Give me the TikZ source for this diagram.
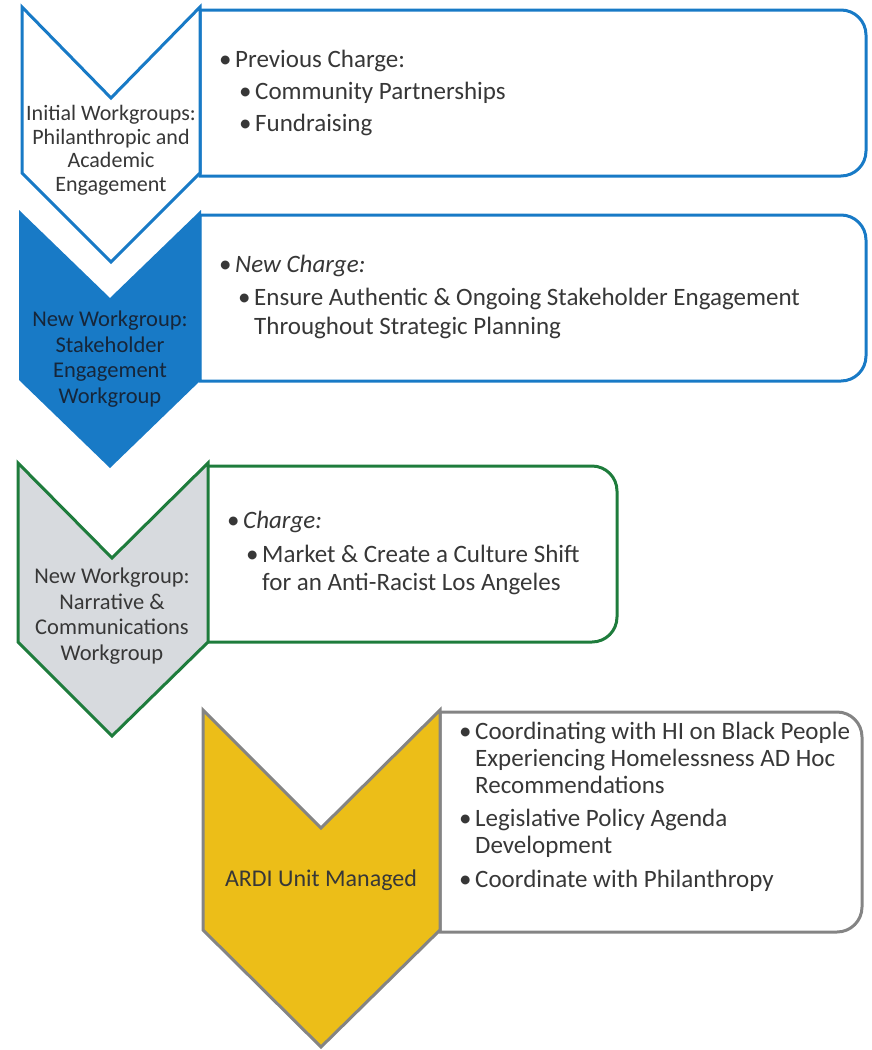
\documentclass[tikz,border=0pt]{standalone}
\usepackage{fontspec}
\setmainfont{Carlito}
\definecolor{wgblue}{RGB}{24,122,198}
\definecolor{wggreen}{RGB}{30,124,60}
\definecolor{wggrey}{RGB}{215,218,222}
\definecolor{wgyellow}{RGB}{236,190,24}
\definecolor{wgedge}{RGB}{132,132,132}
\definecolor{wgtext}{RGB}{55,55,55}
\definecolor{wgnavy}{RGB}{22,38,58}
\newcommand{\bul}{\makebox[16pt][l]{\textbullet}}
\tikzset{
  outline/.style={line width=3pt,line join=miter},
  boxtxt/.style={anchor=base west,inner sep=0pt,text=wgtext,font=\fontsize{25}{27}\selectfont},
  chevtxt/.style={align=center,inner sep=0pt,text=wgtext},
}
\begin{document}
\begin{tikzpicture}[x=1pt,y=-1pt]
\useasboundingbox (0,0) rectangle (872,1050);
\path[draw=wgblue,outline]%
(200,10)--(841,10) arc[start angle=90,end angle=0,radius=25pt]%
--(866,151) arc[start angle=0,end angle=-90,radius=25pt]--(200,176)--cycle;
\path[draw=wgblue,outline]%
(200,215)--(841,215) arc[start angle=90,end angle=0,radius=25pt]%
--(866,356) arc[start angle=0,end angle=-90,radius=25pt]--(200,381)--cycle;
\path[draw=wggreen,outline]%
(207,466)--(592,466) arc[start angle=90,end angle=0,radius=25pt]%
--(617,617) arc[start angle=0,end angle=-90,radius=25pt]--(207,642)--cycle;
\path[draw=wgedge,outline]%
(440,712)--(837,712) arc[start angle=90,end angle=0,radius=25pt]%
--(862,907) arc[start angle=0,end angle=-90,radius=25pt]--(440,932)--cycle;
\path[draw=wgblue,fill=white,outline]%
(22,7)--(111,98)--(200,7)--(200,173)--(111,262)--(22,173)--cycle;
\path[fill=wgblue]%
(19,210)--(110,298)--(201,210)--(201,380)--(110,468)--(19,380)--cycle;
\path[draw=wggreen,fill=wggrey,outline]%
(18,463)--(112,558)--(208,463)--(208,642)--(112,736)--(18,642)--cycle;
\path[draw=wgedge,fill=wgyellow,outline]%
(203,710)--(321,828)--(440,710)--(440,930)--(321,1047)--(203,930)--cycle;
\node[chevtxt,font=\fontsize{22}{23.5}\selectfont] (c1) at (111,150)
  {Initial Workgroups:\\Philanthropic and\\Academic\\Engagement};
\node[chevtxt,text=wgnavy,font=\fontsize{22.5}{25.5}\selectfont] (c2) at (110,359)
  {New Workgroup:\\Stakeholder\\Engagement\\Workgroup};
\node[chevtxt,font=\fontsize{22.5}{25.5}\selectfont] (c3) at (112,616)
  {New Workgroup:\\Narrative \&\\Communications\\Workgroup};
\node[chevtxt,font=\fontsize{24}{25}\selectfont] (c4) at (321,880) {ARDI Unit Managed};
\node[boxtxt] (b1a) at (219,67) {\bul Previous Charge:};
\node[boxtxt] (b1b) at (239,99) {\bul Community Partnerships};
\node[boxtxt] (b1c) at (239,131) {\bul Fundraising};
\node[boxtxt] (b2a) at (219,272) {\bul\textit{New Charge:}};
\node[boxtxt] (b2b) at (238,305) {\bul Ensure Authentic \& Ongoing Stakeholder Engagement};
\node[boxtxt] (b2c) at (254,334) {Throughout Strategic Planning};
\node[boxtxt] (b3a) at (227,528) {\bul\textit{Charge:}};
\node[boxtxt] (b3b) at (246,562) {\bul Market \& Create a Culture Shift};
\node[boxtxt] (b3c) at (262,590) {for an Anti-Racist Los Angeles};
\node[boxtxt] (b4a) at (459,739) {\bul Coordinating with HI on Black People};
\node[boxtxt] (b4b) at (475,766) {Experiencing Homelessness AD Hoc};
\node[boxtxt] (b4c) at (475,793) {Recommendations};
\node[boxtxt] (b4d) at (459,826) {\bul Legislative Policy Agenda};
\node[boxtxt] (b4e) at (475,853) {Development};
\node[boxtxt] (b4f) at (459,887) {\bul Coordinate with Philanthropy};
\end{tikzpicture}
\end{document}
